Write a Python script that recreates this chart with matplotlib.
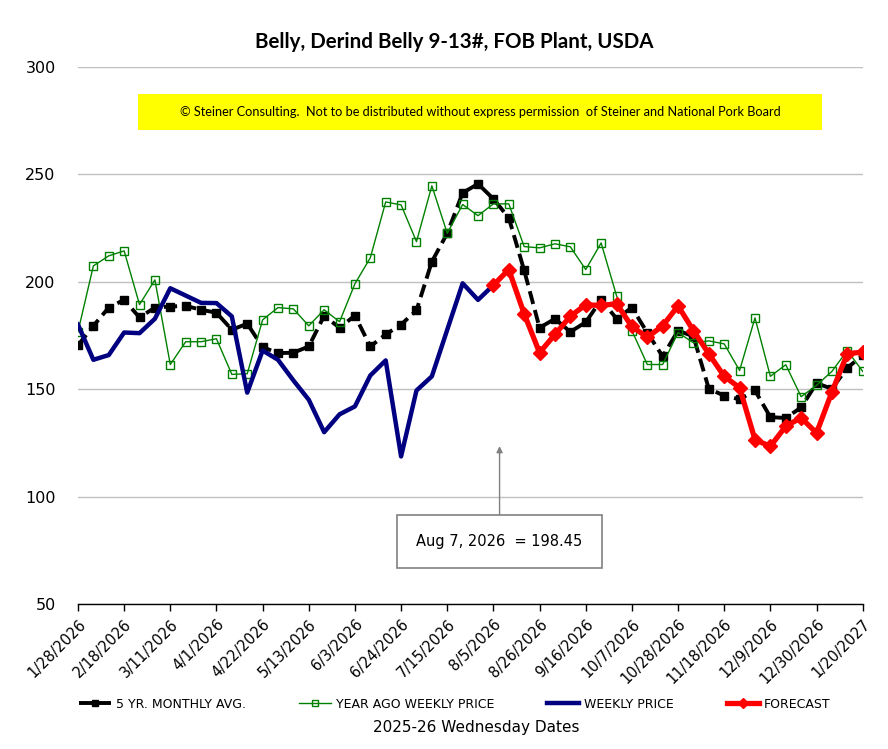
import matplotlib
matplotlib.use("Agg")
import matplotlib.pyplot as plt
from matplotlib.patches import Rectangle

weeks = list(range(52))
tick_labels = ["1/28/2026", "2/18/2026", "3/11/2026", "4/1/2026", "4/22/2026", "5/13/2026",
               "6/3/2026", "6/24/2026", "7/15/2026", "8/5/2026", "8/26/2026", "9/16/2026",
               "10/7/2026", "10/28/2026", "11/18/2026", "12/9/2026", "12/30/2026", "1/20/2027"]

five_yr_avg = [170.4, 179.5, 188.0, 191.6, 183.4, 188.0, 188.5, 188.8, 187.0, 185.6,
               177.7, 180.5, 169.6, 166.8, 167.0, 169.9, 184.2, 178.6, 184.3, 169.9,
               175.5, 180.1, 186.7, 209.4, 222.6, 241.4, 245.6, 238.6, 229.8, 205.3,
               178.6, 182.8, 176.7, 181.2, 191.6, 182.9, 188.0, 176.3, 165.3, 177.3,
               174.6, 150.2, 147.0, 145.3, 149.4, 137.0, 136.6, 141.5, 152.8, 150.2,
               160.0, 165.7]

year_ago = [176.7, 207.4, 212.1, 214.4, 189.4, 200.9, 161.5, 172.1, 172.1, 173.5,
            156.9, 157.2, 182.3, 188.0, 187.4, 179.5, 187.0, 181.4, 199.1, 211.2,
            237.2, 235.8, 218.7, 244.7, 222.6, 236.0, 230.8, 236.3, 236.3, 216.4,
            215.8, 217.7, 216.3, 205.7, 218.1, 193.6, 177.3, 161.5, 161.5, 176.4,
            171.6, 172.5, 171.1, 158.7, 183.2, 156.0, 161.4, 146.5, 151.8, 158.3,
            168.0, 158.3]

weekly_price = [180.1, 163.7, 165.9, 176.4, 176.1, 182.8, 197.0, 193.6, 190.2, 190.1,
                183.9, 148.4, 168.0, 163.7, 154.1, 145.1, 130.0, 138.3, 142.0, 156.4,
                163.4, 118.7, 149.4, 156.0, 177.7, 199.3, 191.6, 198.45]

forecast_weeks = list(range(27, 52))
forecast = [198.45, 205.7, 185.1, 167.0, 175.5, 184.0, 189.3, 189.0, 189.8, 179.2,
            174.2, 179.5, 188.8, 177.3, 166.5, 156.0, 150.7, 126.5, 123.4, 132.8,
            136.7, 129.6, 148.7, 166.5, 167.3]

fig = plt.figure(figsize=(8.88, 7.49), dpi=100)
ax = fig.add_axes([0.0878, 0.1936, 0.8837, 0.7169])

ax.plot(weeks, five_yr_avg, color="black", lw=2.8, ls=(0, (3.4, 1.6)), marker="s",
        ms=5.3, mfc="black", mec="black", label="5 YR. MONTHLY AVG.", zorder=3)
ax.plot(weeks, year_ago, color="#008000", lw=1.0, marker="s", ms=5.2, mfc="none",
        mec="#008000", mew=1.0, label="YEAR AGO WEEKLY PRICE", zorder=4)
ax.plot(weeks[:len(weekly_price)], weekly_price, color="#000080", lw=3.2,
        label="WEEKLY PRICE", zorder=5)
ax.plot(forecast_weeks, forecast, color="#ff0000", lw=3.8, marker="D", ms=7,
        mfc="#ff0000", mec="#ff0000", label="FORECAST", zorder=6)

ax.set_xlim(0, 51)
ax.set_ylim(50, 300)
ax.set_yticks([50, 100, 150, 200, 250, 300])
ax.set_xticks(list(range(0, 52, 3)))
ax.set_xticklabels(tick_labels, rotation=45, ha="right", va="top",
                   rotation_mode="anchor", fontsize=10.5)
ax.tick_params(axis="y", length=0, pad=16, labelsize=11.5)
ax.tick_params(axis="x", length=5, width=1, direction="out", pad=4, color="black")
ax.grid(axis="y", color="#c0c0c0", lw=1.0)
ax.set_axisbelow(True)
for s in ["top", "right", "left"]:
    ax.spines[s].set_visible(False)
ax.spines["bottom"].set_color("black")
ax.spines["bottom"].set_linewidth(1.0)
ax.spines["bottom"].set_zorder(7)

fig.text(0.512, 0.944, "Belly, Derind Belly 9-13#, FOB Plant, USDA", ha="center",
         va="center", fontsize=14.8, fontweight="bold", family="Lato")

fig.patches.append(Rectangle((0.1554, 0.8264), 0.770, 0.048, transform=fig.transFigure,
                             fc="#ffff00", ec="none", zorder=8))
fig.text(0.541, 0.8504,
         "© Steiner Consulting.  Not to be distributed without express permission  of Steiner and National Pork Board",
         ha="center", va="center", fontsize=9.2, family="Lato", zorder=9)

ax.annotate("Aug 7, 2026  = 198.45", xy=(27.4, 123.5), xytext=(27.4, 79),
            ha="center", va="center", fontsize=10.5,
            bbox=dict(boxstyle="square,pad=1.3", fc="white", ec="#808080", lw=1.2),
            arrowprops=dict(arrowstyle="-|>", color="#808080", lw=1.0,
                            mutation_scale=9, shrinkA=0, shrinkB=0), zorder=8)

leg = fig.legend(loc="center", bbox_to_anchor=(0.512, 0.060), ncol=4, frameon=False,
                 fontsize=9, handlelength=2.6, columnspacing=4.2, handletextpad=0.4,
                 markerscale=0.75)

fig.text(0.536, 0.029, "2025-26 Wednesday Dates", ha="center", va="center", fontsize=11)

fig.savefig("out.png", dpi=100)
